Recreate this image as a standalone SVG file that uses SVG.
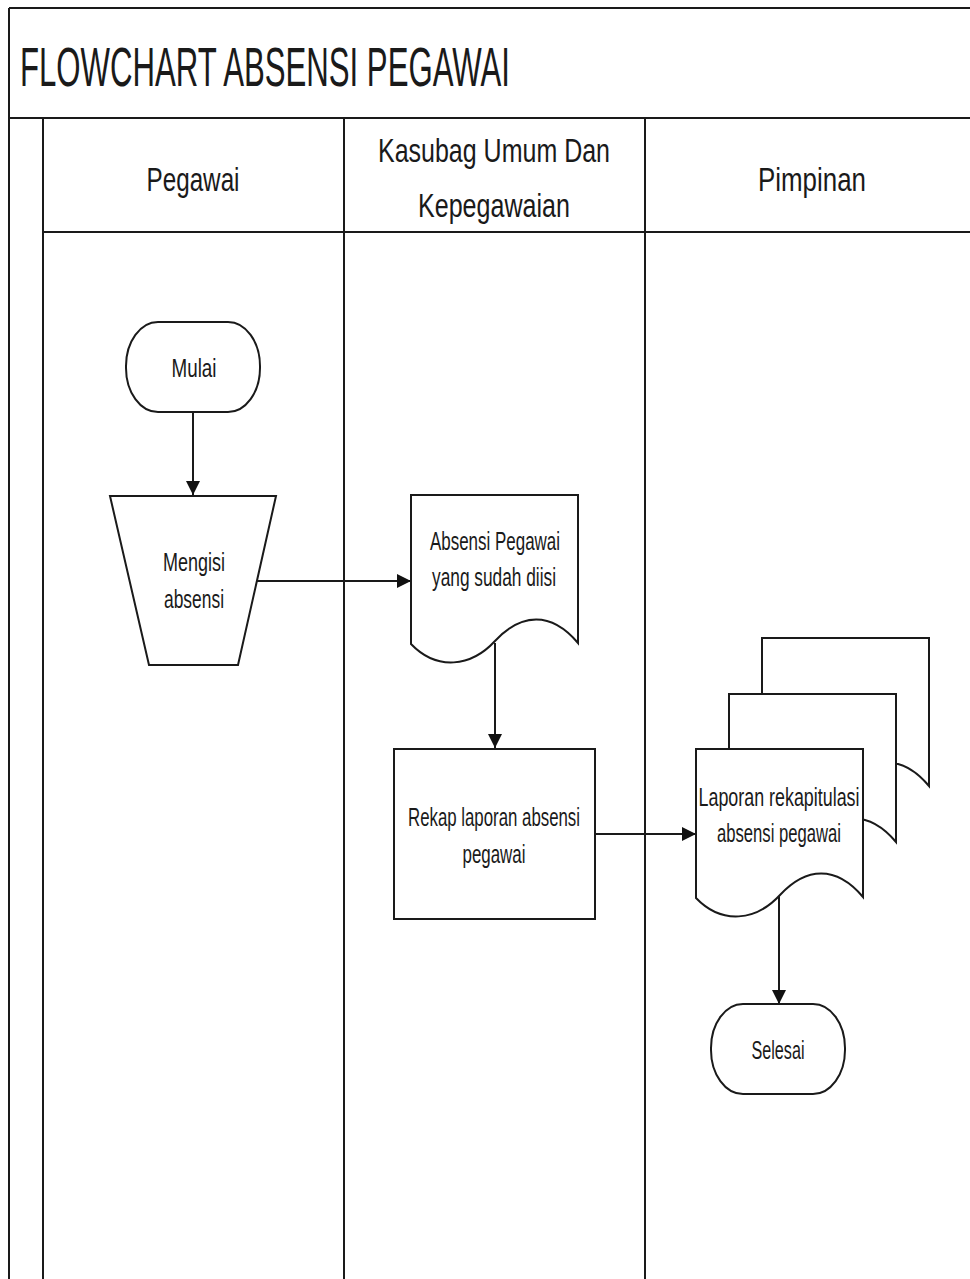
<svg xmlns="http://www.w3.org/2000/svg" xmlns:xlink="http://www.w3.org/1999/xlink" width="970" height="1279" viewBox="0 0 970 1279">
<style>
.frame{stroke:#1a1a1a;stroke-width:2;fill:none}
.shape{stroke:#1a1a1a;stroke-width:2;fill:#fff}
.conn{stroke:#1a1a1a;stroke-width:2;fill:none}
.t{font-family:"Liberation Sans",Arial,sans-serif;fill:#1a1a1a;text-anchor:middle}
.n{font-size:25px}
.h{font-size:34px}
.title{font-family:"Liberation Sans",Arial,sans-serif;fill:#1a1a1a;font-size:56px}
</style>
<defs>
<marker id="ah" markerWidth="14" markerHeight="14" refX="14" refY="7" orient="auto" markerUnits="userSpaceOnUse">
<path d="M0,0 L14,7 L0,14 Z" fill="#111"/>
</marker>
<path id="doc" d="M0,0 H167 V148 C140,116 110,118 84,146 C60,172 26,176 0,149 Z"/>
</defs>
<rect x="0" y="0" width="970" height="1279" fill="#fff"/>
<g id="lanes">
<line class="frame" x1="9" y1="8" x2="970" y2="8"/>
<line class="frame" x1="9" y1="8" x2="9" y2="1279"/>
<line class="frame" x1="9" y1="118" x2="970" y2="118"/>
<line class="frame" x1="43" y1="118" x2="43" y2="1279"/>
<line class="frame" x1="344" y1="118" x2="344" y2="1279"/>
<line class="frame" x1="645" y1="118" x2="645" y2="1279"/>
<line class="frame" x1="43" y1="232" x2="970" y2="232"/>
<text class="title" x="20" y="86" textLength="490" lengthAdjust="spacingAndGlyphs">FLOWCHART ABSENSI PEGAWAI</text>
<text class="t h" x="193" y="191" textLength="93" lengthAdjust="spacingAndGlyphs">Pegawai</text>
<text class="t h" x="494" y="162" textLength="232" lengthAdjust="spacingAndGlyphs">Kasubag Umum Dan</text>
<text class="t h" x="494" y="217" textLength="152" lengthAdjust="spacingAndGlyphs">Kepegawaian</text>
<text class="t h" x="812" y="191" textLength="108" lengthAdjust="spacingAndGlyphs">Pimpinan</text>
</g>
<g id="connectors">
<line class="conn" x1="193" y1="412" x2="193" y2="495" marker-end="url(#ah)"/>
<line class="conn" x1="256" y1="581" x2="411" y2="581" marker-end="url(#ah)"/>
<line class="conn" x1="495" y1="643" x2="495" y2="748" marker-end="url(#ah)"/>
<line class="conn" x1="595" y1="834" x2="696" y2="834" marker-end="url(#ah)"/>
<line class="conn" x1="779" y1="895" x2="779" y2="1004" marker-end="url(#ah)"/>
</g>
<g id="mulai">
<rect class="shape" x="126" y="322" width="134" height="90" rx="32" ry="44"/>
<text class="t n" x="194" y="377" textLength="45" lengthAdjust="spacingAndGlyphs">Mulai</text>
</g>
<g id="mengisi-absensi">
<path class="shape" d="M110,496 H276 L238,665 H149 Z"/>
<text class="t n" x="194" y="571" textLength="62" lengthAdjust="spacingAndGlyphs">Mengisi</text>
<text class="t n" x="194" y="608" textLength="60" lengthAdjust="spacingAndGlyphs">absensi</text>
</g>
<g id="absensi-pegawai">
<use href="#doc" xlink:href="#doc" class="shape" transform="translate(411,495)"/>
<text class="t n" x="495" y="550" textLength="130" lengthAdjust="spacingAndGlyphs">Absensi Pegawai</text>
<text class="t n" x="494" y="586" textLength="124" lengthAdjust="spacingAndGlyphs">yang sudah diisi</text>
</g>
<g id="rekap">
<rect class="shape" x="394" y="749" width="201" height="170"/>
<text class="t n" x="494" y="826" textLength="172" lengthAdjust="spacingAndGlyphs">Rekap laporan absensi</text>
<text class="t n" x="494" y="863" textLength="63" lengthAdjust="spacingAndGlyphs">pegawai</text>
</g>
<g id="laporan-rekapitulasi">
<use href="#doc" xlink:href="#doc" class="shape" transform="translate(762,638)"/>
<use href="#doc" xlink:href="#doc" class="shape" transform="translate(729,694)"/>
<use href="#doc" xlink:href="#doc" class="shape" transform="translate(696,749)"/>
<text class="t n" x="779" y="806" textLength="161" lengthAdjust="spacingAndGlyphs">Laporan rekapitulasi</text>
<text class="t n" x="779" y="842" textLength="124" lengthAdjust="spacingAndGlyphs">absensi pegawai</text>
</g>
<g id="selesai">
<rect class="shape" x="711" y="1004" width="134" height="90" rx="32" ry="44"/>
<text class="t n" x="778" y="1059" textLength="53" lengthAdjust="spacingAndGlyphs">Selesai</text>
</g>
</svg>
